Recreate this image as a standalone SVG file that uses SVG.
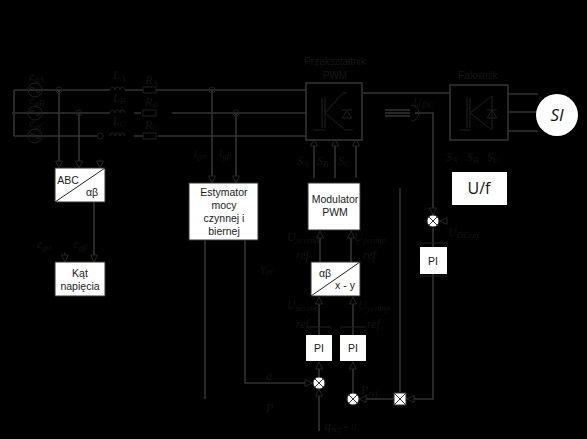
<svg xmlns="http://www.w3.org/2000/svg" width="587" height="439" viewBox="0 0 587 439">
<style>
.l{fill:none;stroke:#333;stroke-width:1.6}
.t{fill:none;stroke:#202020;stroke-width:1}
.a{fill:none;stroke:#333;stroke-width:1.6;marker-end:url(#ar)}
.b{fill:#fff;stroke:#333;stroke-width:1}
.n{font-family:"Liberation Sans",Arial,sans-serif;font-size:10.5px;fill:#1a1a1a;text-anchor:middle}
.m{font-family:"Liberation Serif",serif;font-style:italic;font-size:12px;fill:#141414}
.m tspan{font-size:9px}
.h{font-family:"Liberation Sans",sans-serif;font-size:10px;fill:#161616;text-anchor:middle}
</style>
<defs>
<marker id="ar" markerUnits="userSpaceOnUse" markerWidth="10" markerHeight="9" refX="8" refY="4.5" orient="auto"><path d="M1 1L8 4.5L1 8Z" fill="#000" stroke="#262626" stroke-width="1"/></marker>
</defs>
<rect width="587" height="439" fill="#000"/>
<g id="connectors">
<path class="l" d="M14 90V136M14 90H110M14 113H110M14 136H97M125 90H143M134 113H141M134 136H143M156 90H306M172 113H306M158 136H306"/>
<path class="a" d="M59 90V168"/><path class="a" d="M79 113V168"/><path class="a" d="M100 158V168" style="stroke:#1a1a1a;stroke-width:.8"/>
<path class="a" d="M212 90V183"/><path class="a" d="M236 113V183"/>
<path class="a" d="M94 202V262"/><path class="a" d="M65 252V262" style="stroke:#1a1a1a"/>
<path class="a" d="M314 178V139"/><path class="a" d="M335 178V139"/><path class="a" d="M356 178V139"/>
<path class="l" d="M363 93H450M508 94H538M508 112H538M508 131H538"/>
<path class="l" d="M385 110H410M385 113H410M385 116H410M415 113H433V190M400 188V392"/>
<path class="a" d="M433 190V215"/><path class="a" d="M447 221H440" style="stroke:#1a1a1a"/>
<path class="a" d="M320 262V231"/><path class="a" d="M351 262V231"/>
<path class="a" d="M319 335V297"/><path class="a" d="M353 335V297"/>
<path class="a" d="M319 377V362"/><path class="a" d="M353 393V362"/>
<path class="a" d="M245 240V383H312"/><path class="l" d="M205 240V399"/>
<path class="a" d="M319 431V389"/>
<path class="a" d="M393 399H359" style="stroke-width:1.4"/><path class="a" d="M433 274V399H407"/>
<path class="l" d="M433 228V247"/>
<path class="t" d="M56 90a3 3 0 1 1 6 0a3 3 0 1 1-6 0M76 113a3 3 0 1 1 6 0a3 3 0 1 1-6 0M209 90a3 3 0 1 1 6 0a3 3 0 1 1-6 0M233 113a3 3 0 1 1 6 0a3 3 0 1 1-6 0M97 136a3 3 0 1 1 6 0a3 3 0 1 1-6 0"/>
<path class="t" d="M306 327H331M340 327H366M420 243H447M420 276H447"/>
<path class="t" d="M411 105a8 8 0 0 1 0 16"/>
</g>
<g id="sources" class="t">
<circle cx="35" cy="90" r="7"/><circle cx="35" cy="113" r="7"/><circle cx="35" cy="136" r="7"/>
<path d="M29 90q3-5 6 0t6 0M29 113q3-5 6 0t6 0M29 136q3-5 6 0t6 0"/>
<circle cx="14" cy="113" r="1.5" fill="#333"/>
</g>
<g id="inductors" class="t">
<path d="M110 90a2.5 3 0 0 1 5 0a2.5 3 0 0 1 5 0a2.5 3 0 0 1 5 0M110 113a2.5 3 0 0 1 5 0a2.5 3 0 0 1 5 0a2.5 3 0 0 1 5 0M110 136a2.5 3 0 0 1 5 0a2.5 3 0 0 1 5 0a2.5 3 0 0 1 5 0"/>
<rect x="143" y="87" width="13" height="6"/><rect x="143" y="110" width="13" height="6"/><rect x="143" y="133" width="13" height="6"/>
</g>
<g id="converter">
<rect x="306" y="83" width="56" height="57" class="l"/>
<path class="t" d="M322 98V128M325 98V128M325 113L343 93H347M325 113L345 130H353M313 130H325M342 110H352M347 111L342 118H352Z"/>
</g>
<g id="inverter">
<rect x="450" y="85" width="58" height="55" class="l"/>
<path class="t" d="M467 98V128M470 98V128M470 113L492 96V130M470 113L492 130M460 130H470M487 110H497M492 110L487 118H497Z"/>
</g>
<g id="motor"><circle cx="557" cy="115" r="21" fill="#fff"/><text x="557" y="121" font-family="Open Sans,sans-serif" font-style="italic" font-size="17" text-anchor="middle" fill="#111">SI</text></g>
<g id="uf"><rect x="452" y="172" width="55" height="33" fill="#fff"/><text x="479" y="194" font-family="Open Sans,sans-serif" font-size="16" text-anchor="middle" fill="#111">U/f</text></g>
<g id="abc"><rect x="55" y="168" width="50" height="34" class="b"/><path d="M55 202L105 168" stroke="#222" stroke-width="1"/><text x="68" y="184" class="n">ABC</text><text x="92" y="196" class="n">αβ</text></g>
<g id="kat"><rect x="55" y="262" width="50" height="34" class="b"/><text x="80" y="277" class="n">Kąt</text><text x="80" y="290" class="n">napięcia</text></g>
<g id="estymator"><rect x="189" y="183" width="69" height="57" class="b"/><text x="224" y="196" class="n">Estymator</text><text x="224" y="209" class="n">mocy</text><text x="224" y="222" class="n">czynnej i</text><text x="224" y="235" class="n">biernej</text></g>
<g id="modulator"><rect x="308" y="183" width="52" height="47" class="b"/><text x="335" y="203" class="n">Modulator</text><text x="335" y="216" class="n">PWM</text></g>
<g id="transform"><rect x="311" y="262" width="49" height="34" class="b"/><path d="M311 296L360 262" stroke="#222" stroke-width="1"/><text x="325" y="277" class="n">αβ</text><text x="345" y="289" class="n">x - y</text></g>
<g id="pi1"><rect x="306" y="335" width="26" height="26" fill="#fff"/><text x="319" y="352" class="n">PI</text></g>
<g id="pi2"><rect x="340" y="335" width="26" height="26" fill="#fff"/><text x="353" y="352" class="n">PI</text></g>
<g id="pi3"><rect x="420" y="247" width="27" height="27" fill="#fff"/><text x="433" y="265" class="n">PI</text></g>
<g id="sum1"><circle cx="319" cy="383" r="6" fill="#fff" stroke="#333"/><path d="M315 379L323 387M323 379L315 387" stroke="#333"/></g>
<g id="sum2"><circle cx="353" cy="399" r="6" fill="#fff" stroke="#333"/><path d="M349 395L357 403M357 395L349 403" stroke="#333"/></g>
<g id="sum3"><circle cx="433" cy="221" r="6" fill="#fff" stroke="#333"/><path d="M429 217L437 225M437 217L429 225" stroke="#333"/></g>
<g id="mul"><rect x="394" y="393" width="12" height="12" fill="#fff" stroke="#333"/><path d="M394 393L406 405M406 393L394 405" stroke="#333"/></g>
<g id="labels">
<text class="h" x="335" y="65">Przekształtnik</text><text class="h" x="335" y="79">PWM</text><text class="h" x="478" y="79">Falownik</text>
<text class="m" x="29" y="80">e<tspan dy="2">gA</tspan></text><text class="m" x="29" y="104">e<tspan dy="2">gB</tspan></text><text class="m" x="29" y="127">e<tspan dy="2">gC</tspan></text>
<text class="m" x="113" y="79">L<tspan dy="2">A</tspan></text><text class="m" x="113" y="102">L<tspan dy="2">B</tspan></text><text class="m" x="113" y="125">L<tspan dy="2">C</tspan></text>
<text class="m" x="145" y="84">R<tspan dy="2">A</tspan></text><text class="m" x="145" y="106">R<tspan dy="2">B</tspan></text><text class="m" x="145" y="129">R<tspan dy="2">C</tspan></text>
<text class="m" x="194" y="157">i<tspan dy="2">gα</tspan></text><text class="m" x="219" y="157">i<tspan dy="2">gβ</tspan></text>
<text class="m" x="37" y="248">e<tspan dy="2">gα</tspan></text><text class="m" x="73" y="248">e<tspan dy="2">gβ</tspan></text>
<text class="m" x="413" y="106" font-size="13">U<tspan dy="2">DC</tspan></text><text class="m" x="448" y="236" font-size="13">U<tspan dy="2">DCref</tspan></text>
<text class="m" x="297" y="165">S<tspan dy="2">A</tspan></text><text class="m" x="317" y="165">S<tspan dy="2">B</tspan></text><text class="m" x="338" y="165">S<tspan dy="2">C</tspan></text>
<text class="m" x="446" y="161">S<tspan dy="2">A</tspan></text><text class="m" x="467" y="161">S<tspan dy="2">B</tspan></text><text class="m" x="487" y="161">S<tspan dy="2">C</tspan></text>
<text class="m" x="261" y="272">γ<tspan dy="2">αt</tspan></text>
<text class="m" x="287" y="241">U<tspan dy="2">xcomα</tspan></text><text class="m" x="296" y="259">ref</text><text class="m" x="354" y="241">U<tspan dy="2">ycomp</tspan></text><text class="m" x="363" y="259">ref</text>
<text class="m" x="287" y="309">U<tspan dy="2">xcomα</tspan></text><text class="m" x="296" y="328">ref</text><text class="m" x="358" y="309">U<tspan dy="2">ycomp</tspan></text><text class="m" x="367" y="328">ref</text>
<text class="m" x="266" y="380">q</text><text class="m" x="266" y="412" font-size="13">P</text>
<text class="m" x="325" y="430">q<tspan dy="2">ref</tspan><tspan dy="-2" font-size="12"> = 0</tspan></text><text class="m" x="361" y="394">P<tspan dy="2">ref</tspan></text>
</g>
</svg>
